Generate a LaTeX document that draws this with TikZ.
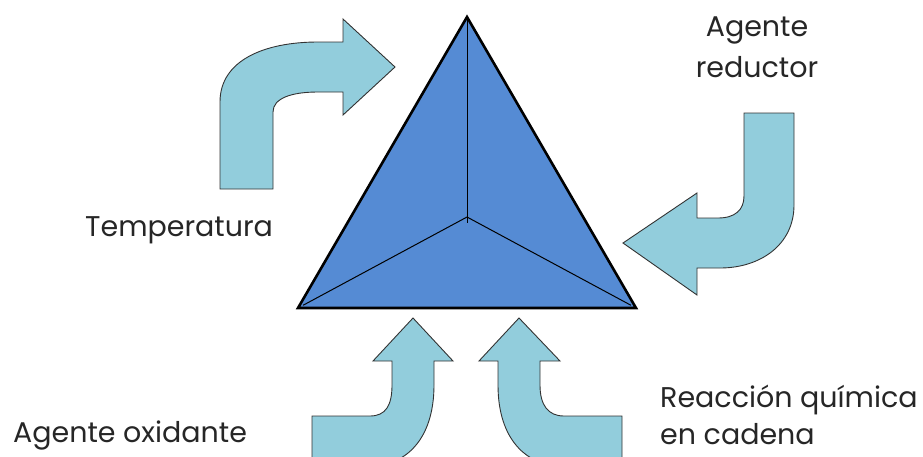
\documentclass[tikz,border=0pt]{standalone}
\usepackage{fontspec}
\setmainfont{Poppins}
\usetikzlibrary{calc}
\definecolor{arrowfill}{HTML}{92CDDC}
\definecolor{trifill}{HTML}{558BD4}
\begin{document}
\begin{tikzpicture}[x=1pt,y=-1pt,
  bentarrow/.style={fill=arrowfill,draw=black!80,line width=0.9pt,line join=miter},
  tri/.style={fill=trifill,draw=black,line width=2.6pt,line join=miter},
  edge/.style={draw=black,line width=1pt},
  lbl/.style={font=\fontsize{28.5}{32}\selectfont,inner sep=0pt,text=black!85}]
\useasboundingbox (0,0) rectangle (923,456);
% triangle
\coordinate (apex) at (467,17);
\coordinate (bl) at (298,308);
\coordinate (br) at (636,308);
\coordinate (ctr) at (467,217);
\filldraw[tri] (apex) -- (br) -- (bl) -- cycle;
\draw[edge] (apex) -- (467,223);
\draw[edge] (ctr) -- ($(bl)!0.03!(ctr)$);
\draw[edge] (ctr) -- ($(br)!0.03!(ctr)$);
% top-left arrow (Temperatura)
\filldraw[bentarrow] (220,189) -- (220,102)
  .. controls (220,60) and (265,42) .. (318,42) -- (343,42)
  -- (343,19) -- (395,67) -- (343,115) -- (343,92) -- (318,92)
  .. controls (292,92) and (273,98) .. (273,112) -- (273,189) -- cycle;
% right arrow (Agente reductor)
\filldraw[bentarrow] (744,113) -- (794,113) -- (794,205)
  .. controls (794,245) and (760,268) .. (720,268) -- (697,268)
  -- (697,295) -- (623,243) -- (697,193) -- (697,218) -- (718,218)
  .. controls (735,218) and (744,210) .. (744,196) -- cycle;
% bottom-left arrow (Agente oxidante)
\filldraw[bentarrow] (312,470) -- (312,416) -- (370,416)
  .. controls (386,416) and (392,405) .. (392,385) -- (392,361)
  -- (373,361) -- (413,318) -- (453,361) -- (434,361) -- (434,385)
  .. controls (434,440) and (405,466) .. (370,466) -- (370,470) -- cycle;
% bottom-right arrow (Reaccion quimica)
\filldraw[bentarrow] (622,470) -- (622,416) -- (564,416)
  .. controls (548,416) and (540,405) .. (540,385) -- (540,361)
  -- (560,361) -- (519,318) -- (479,361) -- (498,361) -- (498,385)
  .. controls (498,440) and (527,466) .. (562,466) -- (562,470) -- cycle;
% labels
\node[lbl,anchor=base] (red1) at (757,36) {Agente};
\node[lbl,anchor=base] (red2) at (757,77) {reductor};
\node[lbl,anchor=base west] (temp) at (85,236) {Temperatura};
\node[lbl,anchor=base west] (oxi) at (13,442) {Agente oxidante};
\node[lbl,anchor=base west] (reac1) at (660,407) {Reacción química};
\node[lbl,anchor=base west] (reac2) at (660,444) {en cadena};
\end{tikzpicture}
\end{document}
